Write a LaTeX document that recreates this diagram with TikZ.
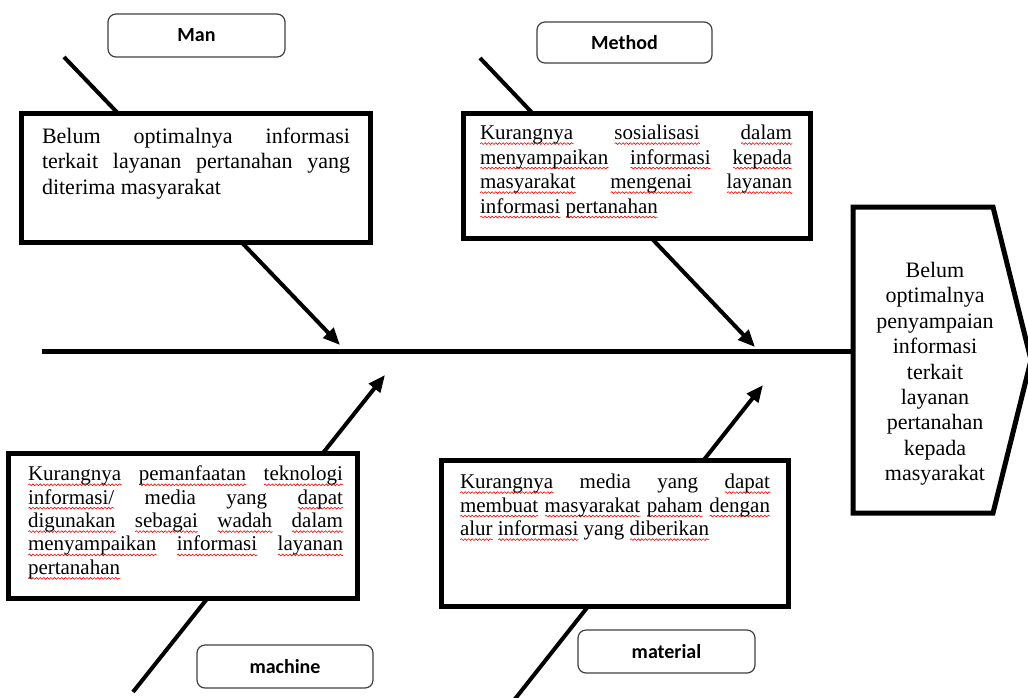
\documentclass[tikz,border=0pt]{standalone}
\usepackage{fontspec}
\setmainfont{Liberation Serif}
\newfontfamily\labfont{Carlito}
\usetikzlibrary{arrows.meta,decorations.pathmorphing}
\newlength\wvlen
\newcommand\wv[1]{\settowidth\wvlen{#1}\rlap{\raisebox{-4pt}{\tikz[baseline=0pt]\draw[red,line width=0.6pt,decorate,decoration={snake,amplitude=0.9pt,segment length=3.6pt}] (0pt,0pt) -- (\wvlen,0pt);}}#1}
\newcommand\jl[1]{\hbox to\hsize{#1}}
\newcommand\lastl[1]{\hbox to\hsize{#1\hfil}}
\setlength\parindent{0pt}
\begin{document}
\begin{tikzpicture}[x=1pt,y=-1pt,
  bone/.style={line width=4pt,-{Triangle[length=17pt,width=14pt]}},
  spine/.style={line width=5pt},
  cbox/.style={draw,line width=5pt,fill=white,inner sep=0pt,outer sep=0pt,anchor=north west},
  ctext/.style={inner sep=0pt,outer sep=0pt,anchor=north west},
  lab/.style={draw=black!75,line width=1.2pt,rounded corners=8pt,fill=white,
    font=\labfont\bfseries\fontsize{20}{23}\selectfont,inner sep=0pt,outer sep=0pt,anchor=north west},
]
\fill[white] (0,0) rectangle (1028,697);
\useasboundingbox (0,0) rectangle (1028,697);

% coordinates
\coordinate (spA) at (42,351);
\coordinate (spB) at (853,351);
\coordinate (manA) at (64,57);
\coordinate (manB) at (340,345);
\coordinate (metA) at (480,58);
\coordinate (metB) at (755,347);
\coordinate (macA) at (133,692);
\coordinate (macB) at (385,375);
\coordinate (matA) at (511,704);
\coordinate (matB) at (763,385);

% spine and bones
\draw[spine] (spA) -- (spB);
\draw[bone] (manA) -- (manB);
\draw[bone] (metA) -- (metB);
\draw[bone] (macA) -- (macB);
\draw[bone] (matA) -- (matB);

% head
\draw[line width=5pt,fill=white,line join=miter] (853,207) -- (993,207) -- (1031,360) -- (993,513) -- (853,513) -- cycle;
\node[inner sep=0pt,anchor=north,text width=150pt,align=center,font=\fontsize{22}{25.4}\selectfont] (headtext) at (935,262)
 {Belum\\optimalnya\\penyampaian\\informasi\\terkait\\layanan\\pertanahan\\kepada\\masyarakat};

% cause boxes
\node[cbox,minimum width=349pt,minimum height=129pt] (manbox) at (21,113) {};
\node[ctext,font=\fontsize{22}{25.5}\selectfont] (mantext) at (42,128)
 {\vbox{\hsize=308pt
  \jl{Belum optimalnya informasi}
  \jl{terkait layanan pertanahan yang}
  \lastl{diterima masyarakat}}};

\node[cbox,minimum width=347pt,minimum height=125pt] (metbox) at (463,113) {};
\node[ctext,font=\fontsize{21}{24.5}\selectfont] (mettext) at (480,125)
 {\vbox{\hsize=312pt
  \jl{\wv{Kurangnya} \wv{sosialisasi} \wv{dalam}}
  \jl{\wv{menyampaikan} \wv{informasi} \wv{kepada}}
  \jl{\wv{masyarakat} \wv{mengenai} \wv{layanan}}
  \lastl{\wv{informasi} \wv{pertanahan}}}};

\node[cbox,minimum width=349pt,minimum height=145pt] (macbox) at (8,453) {};
\node[ctext,font=\fontsize{21}{23.4}\selectfont] (mactext) at (28,466)
 {\vbox{\hsize=315pt
  \jl{\wv{Kurangnya} \wv{pemanfaatan} \wv{teknologi}}
  \jl{\wv{informasi/} media yang \wv{dapat}}
  \jl{\wv{digunakan} \wv{sebagai} \wv{wadah} \wv{dalam}}
  \jl{\wv{menyampaikan} \wv{informasi} \wv{layanan}}
  \lastl{\wv{pertanahan}}}};

\node[cbox,minimum width=347pt,minimum height=146pt] (matbox) at (441,460) {};
\node[ctext,font=\fontsize{21}{23.5}\selectfont] (mattext) at (460,474)
 {\vbox{\hsize=310pt
  \jl{\wv{Kurangnya} media yang \wv{dapat}}
  \jl{\wv{membuat} \wv{masyarakat} \wv{paham} \wv{dengan}}
  \lastl{\wv{alur} \wv{informasi} yang \wv{diberikan}}}};

% category labels
\node[lab,minimum width=177pt,minimum height=43pt] (manlab) at (108,14) {Man};
\node[lab,minimum width=175pt,minimum height=41pt] (metlab) at (537,22) {Method};
\node[lab,minimum width=176pt,minimum height=43pt] (maclab) at (197,645) {machine};
\node[lab,minimum width=177pt,minimum height=43pt] (matlab) at (578,630) {material};
\end{tikzpicture}
\end{document}
